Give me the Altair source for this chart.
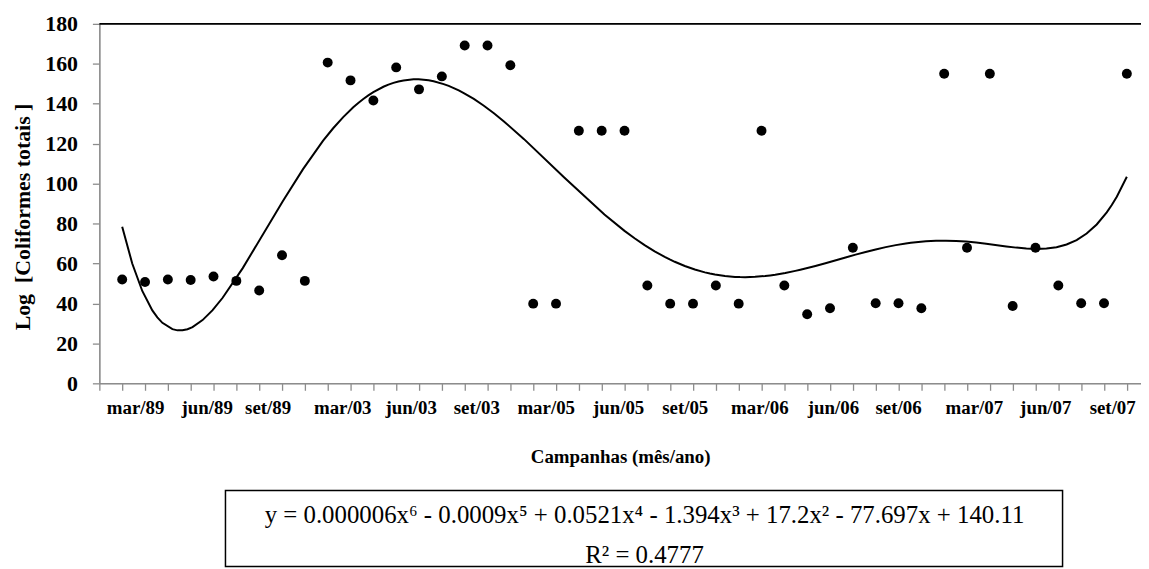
import altair as alt
import pandas as pd

# ---- data ----
campanha_idx = list(range(1, 46))
coliformes = [52.0, 50.7, 52.0, 51.7, 53.5, 51.3, 46.5, 64.1, 51.3,
              160.6, 151.7, 141.6, 158.2, 147.2, 153.7, 169.2, 169.2, 159.3,
              39.9, 39.9, 126.5, 126.5, 126.5, 49.0, 39.9, 39.9, 49.0, 39.9,
              126.5, 49.0, 34.6, 37.6, 67.9, 40.1, 40.1, 37.6, 155.0, 67.9,
              155.0, 38.7, 67.9, 49.0, 40.1, 40.1, 155.0]
tick_labels = ["mar/89", "jun/89", "set/89", "mar/03", "jun/03", "set/03",
               "mar/05", "jun/05", "set/05", "mar/06", "jun/06", "set/06",
               "mar/07", "jun/07", "set/07"]
label_at = [1.59, 4.72, 7.39, 10.66, 13.66, 16.53, 19.57, 22.74, 25.66,
            28.93, 32.15, 35.0, 38.32, 41.45, 44.38]
y_ticks = [0, 20, 40, 60, 80, 100, 120, 140, 160, 180]
equation = "y = 0.000006x\u2076 - 0.0009x\u2075 + 0.0521x\u2074 - 1.394x\u00b3 + 17.2x\u00b2 - 77.697x + 140.11"
r2_text = "R\u00b2 = 0.4777"

W, H = 1049, 362
FONT = "Liberation Serif"
GRAY = "#8c8c8c"

df = pd.DataFrame({"x": campanha_idx, "y": coliformes})
lab = pd.DataFrame({"x": label_at, "label": tick_labels})
one = pd.DataFrame({"a": [0]})

xscale = alt.Scale(domain=[0, 45.62], nice=False, zero=False)
yscale = alt.Scale(domain=[0, 180], nice=False)

x_axis = alt.Axis(values=list(range(0, 46)), labels=False, tickSize=7,
                  tickColor=GRAY, tickWidth=1.3, domainColor=GRAY, domainWidth=1.6,
                  grid=False, title="Campanhas (mês/ano)", titleFont=FONT,
                  titleFontSize=19, titleFontWeight="bold", titleColor="black",
                  titleY=74, titleBaseline="middle")
y_axis = alt.Axis(values=y_ticks, tickSize=7, tickColor=GRAY, tickWidth=1.3,
                  domainColor=GRAY, domainWidth=1.6, grid=False,
                  labelPadding=15, labelFont=FONT, labelFontSize=22,
                  labelFontWeight="bold", labelColor="black",
                  title="Log\u00a0 [Coliformes totais ]", titleFont=FONT,
                  titleFontSize=22, titleFontWeight="bold", titleColor="black",
                  titleX=-77, titleY=194, titleAngle=270, titleAlign="center",
                  titleBaseline="middle")

X = alt.X("x:Q", scale=xscale, axis=x_axis)
Y = alt.Y("y:Q", scale=yscale, axis=y_axis)

points = alt.Chart(df).mark_circle(size=100, color="black", opacity=1).encode(x=X, y=Y)

trend = alt.Chart(df).transform_regression(
    "x", "y", method="poly", order=6, extent=[1, 45]
).mark_line(color="black", strokeWidth=2).encode(x=X, y=Y)

xlabels = alt.Chart(lab).mark_text(
    font=FONT, fontSize=19, fontWeight="bold", color="black", baseline="middle"
).encode(x=X, y=alt.value(H + 25), text="label:N")

top_border = alt.Chart(one).mark_rule(color="black", strokeWidth=2).encode(
    x=alt.value(0), x2=alt.value(W), y=alt.value(0))

box = alt.Chart(one).mark_rect(fill="white", stroke="black", strokeWidth=1.5).encode(
    x=alt.value(127), x2=alt.value(970), y=alt.value(470), y2=alt.value(546.5))

eq1 = alt.Chart(one).mark_text(font=FONT, fontSize=25, color="black",
                               baseline="middle", align="center").encode(
    x=alt.value(549), y=alt.value(495), text=alt.value(equation))
eq2 = alt.Chart(one).mark_text(font=FONT, fontSize=25, color="black",
                               baseline="middle", align="center").encode(
    x=alt.value(549), y=alt.value(535), text=alt.value(r2_text))

chart = alt.layer(top_border, trend, points, xlabels, box, eq1, eq2).properties(
    width=W, height=H,
    autosize=alt.AutoSizeParams(type="none"),
    padding={"left": 92, "top": 14, "right": 0, "bottom": 185},
).configure_view(stroke=None).configure(background="white")

chart.save("out.html", embed_options={"renderer": "svg", "actions": False})
